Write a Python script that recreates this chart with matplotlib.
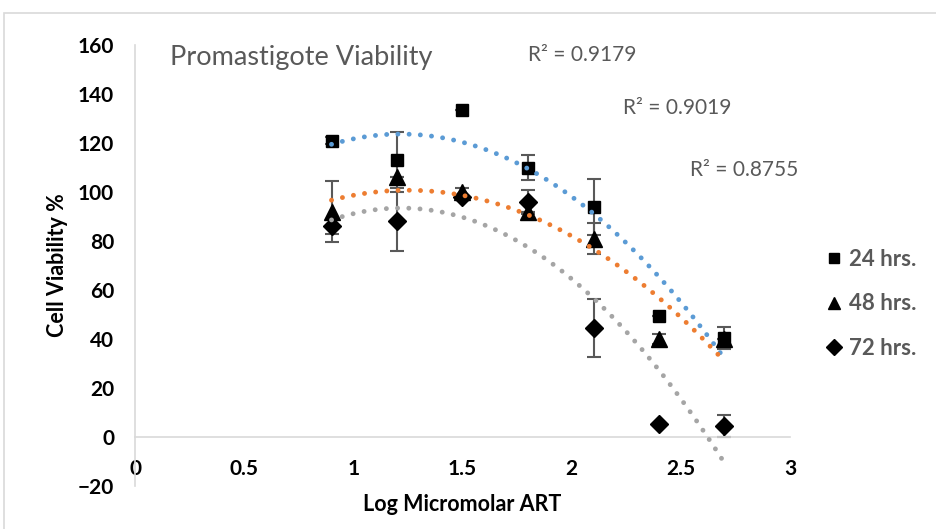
import numpy as np
import matplotlib
matplotlib.use("Agg")
import matplotlib.pyplot as plt
from matplotlib.patches import Rectangle
from matplotlib.lines import Line2D

plt.rcParams['font.family'] = ['Lato', 'DejaVu Sans']

# Data
log_conc = [0.9, 1.2, 1.5, 1.8, 2.1, 2.4, 2.7]
via_24 = [121, 113, 133.5, 110, 94, 49.5, 40.5]
via_48 = [92, 106, 100, 92, 81, 40, 40]
via_72 = [86, 88, 98, 96, 44.5, 5.5, 4.5]
err_24 = [1.5, 11.5, 0, 5, 11.5, 0, 4.5]
err_48 = [12.5, 0, 1.5, 0, 6.5, 2, 0]
err_72 = [3, 12, 0, 5, 12, 0, 4.5]
labels = ["24 hrs.", "48 hrs.", "72 hrs."]
r2_texts = ["R² = 0.9179", "R² = 0.9019", "R² = 0.8755"]
trend_colors = ["#5B9BD5", "#ED7D31", "#A5A5A5"]
markers = ["s", "^", "D"]
msizes = [9, 11, 9]

GRAY_TXT = "#595959"
AX_GRAY = "#D9D9D9"

fig = plt.figure(figsize=(9.37, 5.29), dpi=100)
ax = fig.add_axes([135 / 937, 1 - 486 / 529, 655 / 937, 441 / 529])

# chart border
fig.patches.append(Rectangle((4 / 937, -0.05), 1.1, 1 - 13 / 529 + 0.05,
                             transform=fig.transFigure, fill=False,
                             edgecolor=AX_GRAY, linewidth=1.2))

series = [(via_24, err_24), (via_48, err_48), (via_72, err_72)]
x = np.array(log_conc)
handles = []
for i, (vals, errs) in enumerate(series):
    ax.errorbar(x, vals, yerr=errs, fmt='none', ecolor=GRAY_TXT,
                elinewidth=1.5, capsize=5, capthick=1.5, zorder=2)
    ax.plot(x, vals, linestyle='none', marker=markers[i], markersize=msizes[i],
            color='black', zorder=3)
    handles.append(Line2D([], [], linestyle='none', marker=markers[i],
                          markersize=msizes[i] * 0.85, color='black'))
    # 2nd order polynomial trendline
    coef = np.polyfit(x, vals, 2)
    xs = np.linspace(x.min(), x.max(), 200)
    ax.plot(xs, np.polyval(coef, xs), color=trend_colors[i], linewidth=3.5,
            linestyle=(0, (0.01, 2.3)), dash_capstyle='round', zorder=4)

ax.set_xlim(0, 3)
ax.set_ylim(-20, 160)
ax.set_xticks(np.arange(0, 3.01, 0.5))
ax.set_xticklabels(["0", "0.5", "1", "1.5", "2", "2.5", "3"])
ax.set_yticks(np.arange(-20, 161, 20))

for s in ['top', 'right']:
    ax.spines[s].set_visible(False)
ax.spines['left'].set_color(AX_GRAY)
ax.spines['left'].set_linewidth(1.2)
ax.spines['bottom'].set_position(('data', 0))
ax.spines['bottom'].set_color(AX_GRAY)
ax.spines['bottom'].set_linewidth(1.2)
ax.tick_params(axis='both', length=0, labelsize=15)
ax.tick_params(axis='y', pad=15)
ax.tick_params(axis='x', pad=16)
for lbl in ax.get_xticklabels() + ax.get_yticklabels():
    lbl.set_fontweight('bold')

ax.set_xlabel("Log Micromolar ART", fontsize=15.5, fontweight='bold')
ax.xaxis.set_label_coords(0.5, -0.043)
ax.xaxis.label.set_va('center')
ax.set_ylabel("Cell Viability %", fontsize=15.5, fontweight='bold')
ax.yaxis.set_label_coords(-0.1176, 0.5)
ax.yaxis.label.set_va('center')

fig.text(170 / 937, 1 - 57 / 529, "Promastigote Viability", fontsize=19.5,
         color=GRAY_TXT, va='center', ha='left')
r2_pos = [(528, 55), (623, 108), (690, 170)]
for (px, py), t in zip(r2_pos, r2_texts):
    fig.text(px / 937, 1 - py / 529, t, fontsize=15, color=GRAY_TXT,
             va='center', ha='left')

leg = fig.legend(handles, labels, loc='upper left',
                 bbox_to_anchor=(826 / 937, 1 - 249 / 529), frameon=False,
                 prop={'size': 16, 'weight': 'bold'}, labelcolor=GRAY_TXT,
                 handlelength=0.7, handletextpad=0.35, labelspacing=1.05,
                 borderaxespad=0, borderpad=0)

fig.savefig("out.png", dpi=100)
